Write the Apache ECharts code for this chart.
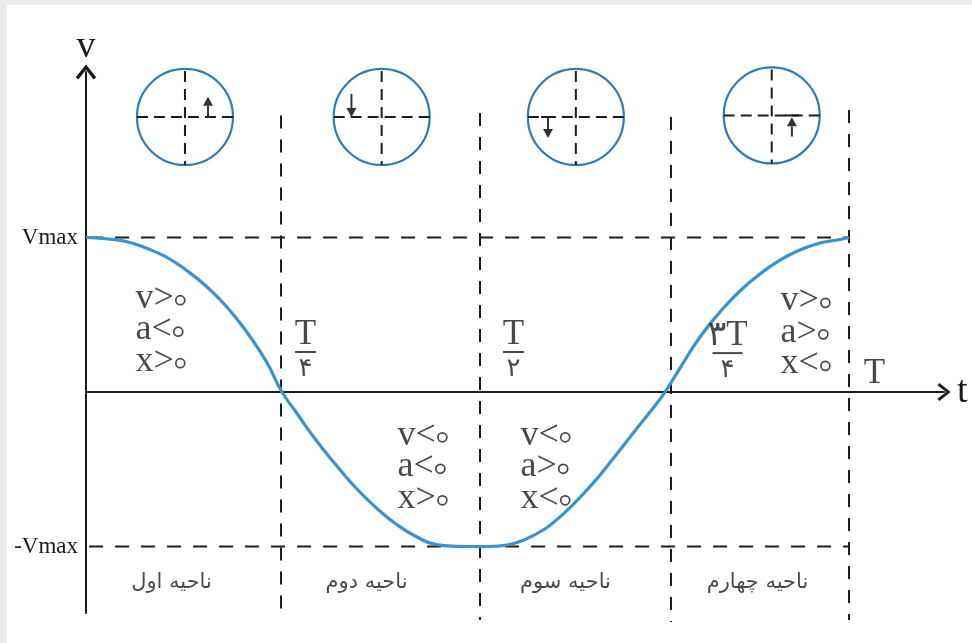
<!DOCTYPE html>
<html>
<head>
<meta charset="utf-8">
<script src="https://cdn.jsdelivr.net/npm/echarts@6/dist/echarts.min.js"></script>
<style>
  html, body { margin: 0; padding: 0; background: #ebebed; }
  #main { position: absolute; left: 7px; top: 5px; width: 965px; height: 638px; background: #fff; }
</style>
</head>
<body>
<div id="main"></div>
<script>
  // curve: t in units of T, v in units of Vmax
  var curveT = [0, 0.0262, 0.0524, 0.0786, 0.1048, 0.1311, 0.1573, 0.1835, 0.2097, 0.2359, 0.2569,
    0.2752, 0.3014, 0.3277, 0.3539, 0.3801, 0.4063, 0.4325, 0.4587, 0.4849, 0.5164,
    0.5347, 0.5609, 0.5872, 0.6134, 0.6396, 0.6658, 0.6920, 0.7182, 0.7444, 0.7588,
    0.7785, 0.8047, 0.8309, 0.8571, 0.8834, 0.9096, 0.9358, 0.9620, 0.9882, 1.0];
  var curveV = [1.0, 0.992, 0.974, 0.932, 0.874, 0.790, 0.686, 0.557, 0.395, 0.201, 0,
    -0.129, -0.311, -0.472, -0.621, -0.748, -0.854, -0.935, -0.987, -0.998, -1.0,
    -0.998, -0.980, -0.926, -0.841, -0.722, -0.583, -0.424, -0.259, -0.097, 0,
    0.155, 0.356, 0.518, 0.654, 0.764, 0.854, 0.919, 0.964, 0.987, 1.0];

  // vertical dashed lines at T/4, T/2, 3T/4, T
  var markT = [0.2556, 0.5164, 0.7667, 1.0];
  var markTop = [1.79, 1.806, 1.78, 1.825];
  var markBottom = [-1.443, -1.476, -1.489, -1.476];
  // horizontal dashed lines at Vmax and -Vmax
  var levelV = [1, -1];
  var levelLabels = ['Vmax', '-Vmax'];

  // fractions written next to the crossings
  var fracTop = ['T', 'T', '۳T'];
  var fracBottom = ['۴', '۲', '۴'];
  var fracT = [0.2883, 0.561, 0.8414];
  var fracV = [0.259, 0.259, 0.252];

  // signs in each region
  var noteText = ['v>۰\na<۰\nx>۰', 'v<۰\na<۰\nx>۰', 'v<۰\na>۰\nx<۰', 'v>۰\na>۰\nx<۰'];
  var noteT = [0.0655, 0.409, 0.570, 0.911];
  var noteV = [0.387, -0.50, -0.50, 0.37];

  // region names under the graph
  var regionNames = ['ناحیه اول', 'ناحیه دوم', 'ناحیه سوم', 'ناحیه چهارم'];
  var regionT = [0.1127, 0.3683, 0.629, 0.8807];
  var regionV = -1.236;

  // reference circles above each region
  var circleT = [0.1297, 0.3875, 0.642, 0.8987];
  var circleV = [1.78, 1.78, 1.78, 1.79];
  var arrowSide = [0.48, -0.63, -0.58, 0.42];   // in circle radii
  var arrowFrom = [0, -0.48, 0, 0.44];
  var arrowTo = [-0.42, 0, 0.44, 0.04];
  var arrowBar = [0, 0, 1, 1];

  var serif = "'Liberation Serif', 'DejaVu Serif', 'DejaVu Sans', serif";
  var ink = '#1c1c1c';
  var R = 48;

  var myChart = echarts.init(document.getElementById('main'));

  var series = [];

  // dashed guide lines
  markT.forEach(function (t, i) {
    series.push({
      type: 'line', silent: true, clip: false, showSymbol: false, z: 2,
      data: [[t, markTop[i]], [t, markBottom[i]]],
      lineStyle: { color: ink, width: 2, type: [13, 11] }
    });
  });
  levelV.forEach(function (v) {
    series.push({
      type: 'line', silent: true, clip: false, showSymbol: false, z: 2,
      data: [[0.004, v], [1.0, v]],
      lineStyle: { color: ink, width: 2, type: [14, 12] }
    });
  });

  // the velocity curve
  series.push({
    type: 'line', silent: true, smooth: 0.5, showSymbol: false, z: 5,
    data: curveT.map(function (t, i) { return [t, curveV[i]]; }),
    lineStyle: { color: '#3a92cf', width: 3.2 }
  });

  // circles
  series.push({
    type: 'custom', silent: true, clip: false, z: 4,
    data: circleT.map(function (t, i) {
      return [t, circleV[i], arrowSide[i], arrowFrom[i], arrowTo[i], arrowBar[i]];
    }),
    renderItem: function (params, api) {
      var c = api.coord([api.value(0), api.value(1)]);
      var cx = c[0], cy = c[1];
      var ax = cx + api.value(2) * R;
      var y0 = cy + api.value(3) * R;
      var y1 = cy + api.value(4) * R;
      var dir = y1 < y0 ? -1 : 1;
      var head = 9;
      var kids = [
        { type: 'circle', shape: { cx: cx, cy: cy, r: R },
          style: { fill: 'none', stroke: '#2f7cb6', lineWidth: 2.2 } },
        { type: 'line', shape: { x1: cx - R, y1: cy, x2: cx + R, y2: cy },
          style: { stroke: ink, lineWidth: 2, lineDash: [11, 6] } },
        { type: 'line', shape: { x1: cx, y1: cy - R + 2, x2: cx, y2: cy + R },
          style: { stroke: ink, lineWidth: 2, lineDash: [11, 7] } },
        { type: 'line', shape: { x1: ax, y1: y0, x2: ax, y2: y1 - dir * head },
          style: { stroke: '#333', lineWidth: 2 } },
        { type: 'polygon', shape: { points: [[ax, y1], [ax - 5, y1 - dir * head], [ax + 5, y1 - dir * head]] },
          style: { fill: '#333' } }
      ];
      if (api.value(5)) {
        kids.push({ type: 'line', shape: { x1: ax - 7, y1: cy, x2: ax + 7, y2: cy },
          style: { stroke: ink, lineWidth: 2 } });
      }
      return { type: 'group', children: kids };
    }
  });

  function textSeries(points, label) {
    return {
      type: 'scatter', silent: true, symbolSize: 1, z: 6,
      itemStyle: { color: 'rgba(0,0,0,0)' },
      data: points,
      label: Object.assign({ show: true, position: [0, 0], color: ink }, label)
    };
  }

  // sign notes: the Persian zero is printed as a small ring
  series.push(textSeries(noteT.map(function (t, i) {
    var rich = noteText[i].split('\n').map(function (line) {
      return '{s|' + line.slice(0, -1) + '}{z|' + line.slice(-1) + '}';
    }).join('\n');
    return { value: [t, noteV[i]], name: rich };
  }), {
    formatter: '{b}', align: 'left', verticalAlign: 'middle',
    rich: {
      s: { fontFamily: serif, fontSize: 36, lineHeight: 31.5, color: ink, padding: [0, 2, 4, 0] },
      z: { fontFamily: "'DejaVu Sans', sans-serif", fontSize: 4, lineHeight: 31.5, color: ink,
        width: 9, height: 9, borderRadius: 5, borderWidth: 1.7, borderColor: ink }
    }
  }));

  // fractions
  series.push(textSeries(fracT.map(function (t, i) {
    var bar = fracTop[i].length > 1 ? 'barw' : 'bar';
    return { value: [t, fracV[i]], name: '{n|' + fracTop[i] + '}\n{' + bar + '| }\n{d|' + fracBottom[i] + '}' };
  }), {
    formatter: '{b}', align: 'center', verticalAlign: 'middle',
    rich: {
      n: { fontFamily: serif, fontSize: 35, lineHeight: 27, color: ink, align: 'center' },
      bar: { width: 21, height: 2, lineHeight: 8, backgroundColor: ink, align: 'center' },
      barw: { width: 30, height: 2, lineHeight: 8, backgroundColor: ink, align: 'center' },
      d: { fontFamily: "'DejaVu Sans', sans-serif", fontSize: 26, lineHeight: 26, color: ink, align: 'center' }
    }
  }));

  // T at the end of the period
  series.push(textSeries([{ value: [1.034, 0.1165], name: 'T' }], {
    formatter: '{b}', align: 'center', verticalAlign: 'middle',
    fontFamily: serif, fontSize: 35
  }));

  // region names
  series.push(textSeries(regionT.map(function (t, i) {
    return { value: [t, regionV], name: regionNames[i] };
  }), {
    formatter: '{b}', align: 'center', verticalAlign: 'middle',
    fontFamily: "'DejaVu Sans', sans-serif", fontSize: 21
  }));

  var chevron = 'path://M10,0 L20,12.5 L17.4,14.6 L10,5 L2.6,14.6 L0,12.5 Z';

  myChart.setOption({
    animation: false,
    grid: { left: 79, right: 28, top: 67, bottom: 30 },
    xAxis: {
      type: 'value', min: 0, max: 1.1245,
      name: 't', nameLocation: 'end', nameGap: 13,
      nameTextStyle: { fontFamily: serif, fontSize: 38, color: ink },
      axisLine: { show: true, onZero: true, symbol: ['none', chevron], symbolSize: [18, 17],
        lineStyle: { color: ink, width: 2 } },
      axisTick: { show: false }, axisLabel: { show: false }, splitLine: { show: false }
    },
    yAxis: {
      type: 'value', min: -1.43, max: 2.071,
      name: 'v', nameLocation: 'end', nameGap: 8,
      nameTextStyle: { fontFamily: serif, fontSize: 38, lineHeight: 34, color: ink },
      axisLine: { show: true, symbol: ['none', chevron], symbolSize: [21, 15],
        lineStyle: { color: ink, width: 2 } },
      axisTick: { show: false },
      axisLabel: {
        show: true, customValues: levelV, margin: 8,
        fontFamily: serif, fontSize: 23, color: ink,
        formatter: function (v) { return levelLabels[levelV.indexOf(v)]; }
      },
      splitLine: { show: false }
    },
    series: series
  });
  window.onresize = myChart.resize;
</script>
</body>
</html>
